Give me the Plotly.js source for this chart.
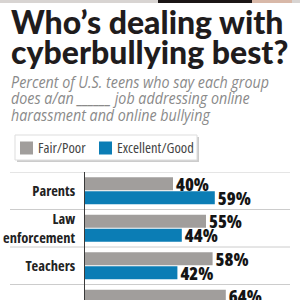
<!DOCTYPE html>
<html>
<head>
<meta charset="utf-8">
<script src="https://cdn.plot.ly/plotly-3.0.1.min.js"></script>
<style>
html,body{margin:0;padding:0;background:#fff;}
#chart{width:300px;height:300px;}
.ytick text, .bartext { font-stretch: 75% !important; }
</style>
</head>
<body>
<div id="chart"></div>
<script>
// ---- data ----
var categories = ['Parents', 'Law<br>enforcement', 'Teachers', 'Bystanders'];
var fairPoor = [40, 55, 58, 64];
var excellentGood = [59, 44, 42, null];
var seriesNames = ['Fair/Poor', 'Excellent/Good'];
var seriesColors = ['#a19e9c', '#0b7db5'];

var titleLines = ['Who’s dealing with', 'cyberbullying best?'];
var subtitleLines = [
  'Percent of U.S. teens who say each group',
  'does a/an ______ job addressing online',
  'harassment and online bullying'
];

// ---- layout helpers (pixel -> paper) ----
var W = 300, H = 300, ML = 85, MR = 10, MT = 172, MB = 0;
var PW = W - ML - MR, PH = H - MT - MB;
function px(x) { return (x - ML) / PW; }
function py(y) { return (H - MB - y) / PH; }
function cond(t, s) { return '<span style="font-stretch:' + s + '%">' + t + '</span>'; }

var narrow = '"Open Sans", "DejaVu Sans", sans-serif';
var heavy = 'Lato, Inter, "Noto Sans", sans-serif';

var traces = [fairPoor, excellentGood].map(function (vals, k) {
  return {
    type: 'bar', orientation: 'h', name: seriesNames[k],
    y: categories, x: vals,
    marker: {color: seriesColors[k], line: {width: 0}},
    texttemplate: '%{x}%', textposition: 'outside', cliponaxis: false, constraintext: 'none',
    textfont: {family: narrow, size: 18, weight: 800, color: '#141414'},
    hoverinfo: 'skip', showlegend: false
  };
});

var annotations = [];
titleLines.forEach(function (t, i) {
  annotations.push({
    xref: 'paper', yref: 'paper', x: px(9), y: py([21, 51][i]),
    xanchor: 'left', yanchor: 'middle', showarrow: false, text: t,
    font: {family: heavy, size: 32, weight: 900, color: '#1f1c1d'}
  });
});
subtitleLines.forEach(function (t, i) {
  annotations.push({
    xref: 'paper', yref: 'paper', x: px(9), y: py([81, 97.5, 114][i]),
    xanchor: 'left', yanchor: 'middle', showarrow: false, text: t,
    font: {family: narrow, size: 16.5, style: 'italic', color: '#8a8a8a'}
  });
});
var legTextX = [36, 115];
seriesNames.forEach(function (n, k) {
  annotations.push({
    xref: 'paper', yref: 'paper', x: px(legTextX[k]), y: py(147.5),
    xanchor: 'left', yanchor: 'middle', showarrow: false, text: cond(n, 75),
    font: {family: narrow, size: 14.5, color: '#444444'}
  });
});

var shapes = [];
// thin photo strip at the very top
shapes.push({type: 'rect', xref: 'paper', yref: 'paper', x0: px(0), x1: px(300), y0: py(3), y1: py(0), fillcolor: '#d8d4d2', line: {width: 0}});
shapes.push({type: 'rect', xref: 'paper', yref: 'paper', x0: px(158), x1: px(252), y0: py(3), y1: py(0), fillcolor: '#1b1616', line: {width: 0}});
shapes.push({type: 'rect', xref: 'paper', yref: 'paper', x0: px(252), x1: px(292), y0: py(3), y1: py(0), fillcolor: '#d8b8a8', line: {width: 0}});
// legend box with shadow
shapes.push({type: 'rect', xref: 'paper', yref: 'paper', x0: px(17), x1: px(199), y0: py(162), y1: py(137), fillcolor: '#cccccc', line: {width: 0}});
shapes.push({type: 'rect', xref: 'paper', yref: 'paper', x0: px(15), x1: px(197), y0: py(160), y1: py(135), fillcolor: '#ffffff', line: {color: '#dddddd', width: 1}});
var legSwX = [20, 99];
seriesColors.forEach(function (c, k) {
  shapes.push({type: 'rect', xref: 'paper', yref: 'paper', x0: px(legSwX[k]), x1: px(legSwX[k] + 13), y0: py(154.5), y1: py(141.5), fillcolor: c, line: {width: 0}});
});
// category separators at boundaries
for (var i = 0; i <= categories.length; i++) {
  shapes.push({type: 'line', xref: 'paper', yref: 'y', x0: px(10), x1: px(290), y0: i - 0.5, y1: i - 0.5, line: {color: '#cccccc', width: 1}, layer: 'below'});
}

var layout = {
  width: W, height: H,
  margin: {l: ML, r: MR, t: MT, b: MB, pad: 0},
  paper_bgcolor: '#ffffff', plot_bgcolor: 'rgba(0,0,0,0)',
  barmode: 'group', bargap: 0.25, bargroupgap: 0.07,
  showlegend: false,
  xaxis: {range: [0, PW / 2.2], visible: false, fixedrange: true},
  yaxis: {
    type: 'category', range: [-0.5 + PH / 37.5, -0.5],
    showline: true, linecolor: '#3a3a3a', linewidth: 1,
    showgrid: false, zeroline: false, ticks: '', ticklabelstandoff: 6,
    tickfont: {family: narrow, size: 14.5, weight: 700, color: '#222222'},
    fixedrange: true
  },
  annotations: annotations,
  shapes: shapes
};

Plotly.newPlot('chart', traces, layout, {displayModeBar: false, staticPlot: true}).then(function (gd) {
  // horizontally condense the subtitle (the installed fonts have no semi-condensed italic)
  var nodes = [];
  for (var k = 0; k < subtitleLines.length; k++) {
    var n = gd.querySelector('.annotation[data-index="' + (titleLines.length + k) + '"] text');
    if (n) nodes.push(n);
  }
  if (!nodes.length) return;
  var w0 = nodes[0].getBBox().width;
  var s = w0 > 0 ? Math.min(1, 258 / w0) : 1;
  nodes.forEach(function (n) {
    n.style.transformBox = 'fill-box';
    n.style.transformOrigin = 'left center';
    n.style.transform = 'scaleX(' + s + ')';
  });
});
</script>
</body>
</html>
